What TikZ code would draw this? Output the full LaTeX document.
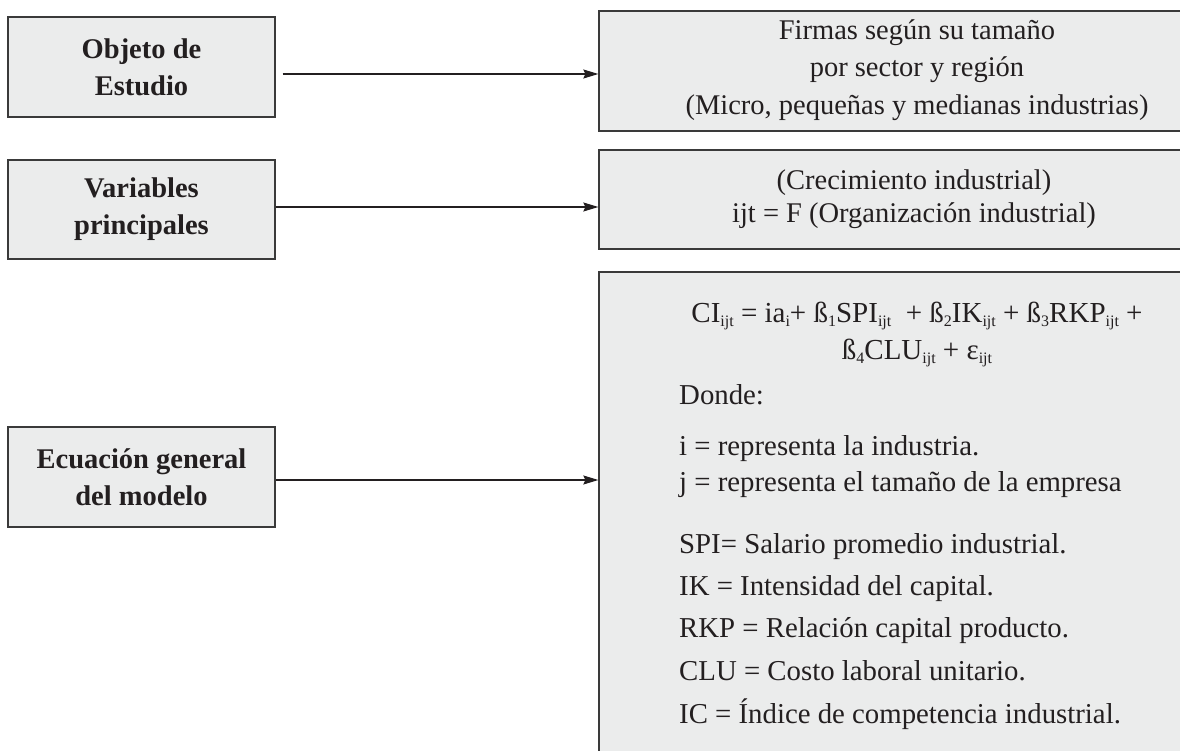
\documentclass[tikz,border=0pt]{standalone}
\usepackage{fontspec}
\setmainfont{Liberation Serif}
\usetikzlibrary{arrows.meta,calc}
\definecolor{boxfill}{HTML}{EBECEC}
\definecolor{boxline}{HTML}{3A3A3A}
\definecolor{ink}{HTML}{231F20}
\newcommand\sbt[1]{\raisebox{-0.34ex}{\fontsize{16}{16}\selectfont #1}}
\tikzset{
  panel/.style={draw=boxline, line width=1.3pt, fill=boxfill, rectangle, inner sep=0pt},
  lbl/.style={text=ink, font=\fontsize{28.5}{37}\selectfont\bfseries, align=center, inner sep=0pt},
  rtxt/.style={text=ink, font=\fontsize{28.5}{37.5}\selectfont, align=center, inner sep=0pt},
  ltxt/.style={text=ink, font=\fontsize{28.8}{34}\selectfont, anchor=base west, inner sep=0pt},
  ctxt/.style={text=ink, font=\fontsize{29}{34}\selectfont, anchor=base, inner sep=0pt},
  arr/.style={draw=ink, line width=1.2pt, -{Stealth[length=15pt,width=9pt,inset=2pt]}}
}
\begin{document}
\begin{tikzpicture}[x=1pt,y=-1pt]
\useasboundingbox (0,0) rectangle (1180,751);
\clip (0,0) rectangle (1180,751);
% left boxes
\node[panel, minimum width=267pt, minimum height=100pt] (obj) at (141.5,67) {};
\node[panel, minimum width=267pt, minimum height=99pt] (var) at (141.5,209.5) {};
\node[panel, minimum width=267pt, minimum height=100pt] (ecu) at (141.5,477) {};
\node[lbl] (objt) at (obj.center) {Objeto de\\Estudio};
\node[lbl] (vart) at (var.center) {Variables\\principales};
\node[lbl] (ecut) at (ecu.center) {Ecuación general\\del modelo};
% right boxes
\node[panel, minimum width=600pt, minimum height=120pt] (firm) at (899,71) {};
\node[panel, minimum width=600pt, minimum height=99pt] (vp) at (899,199.5) {};
\node[panel, minimum width=600pt, minimum height=510pt] (eq) at (899,527) {};
\node[rtxt] (firmt) at (917,70) {Firmas según su tamaño\\por sector y región\\(Micro, pequeñas y medianas industrias)};
\node[rtxt, font=\fontsize{28.5}{33}\selectfont] (vpt) at (914,199) {(Crecimiento industrial)\\ijt = F (Organización industrial)};
% equation
\node[ctxt] (eq1) at (917,322) {CI\sbt{ijt} = ia\sbt{i}+ ß\sbt{1}SPI\sbt{ijt} \ + ß\sbt{2}IK\sbt{ijt} + ß\sbt{3}RKP\sbt{ijt} +};
\node[ctxt] (eq2) at (917,359) {ß\sbt{4}CLU\sbt{ijt} + ε\sbt{ijt}};
\node[ltxt] (d0) at (679,404) {Donde:};
\node[ltxt] (d1) at (679,455) {i = representa la industria.};
\node[ltxt] (d2) at (679,491) {j = representa el tamaño de la empresa};
\node[ltxt] (d3) at (679,553) {SPI= Salario promedio industrial.};
\node[ltxt] (d4) at (679,595) {IK = Intensidad del capital.};
\node[ltxt] (d5) at (679,637) {RKP = Relación capital producto.};
\node[ltxt] (d6) at (679,680) {CLU = Costo laboral unitario.};
\node[ltxt] (d7) at (679,723) {IC = Índice de competencia industrial.};
% arrows
\coordinate (a1) at (0,74);
\coordinate (a2) at (0,207);
\coordinate (a3) at (0,480);
\draw[arr] ($(obj.east |- a1)+(7,0)$) -- (firm.west |- a1);
\draw[arr] (var.east |- a2) -- (vp.west |- a2);
\draw[arr] (ecu.east |- a3) -- (eq.west |- a3);
\end{tikzpicture}
\end{document}
